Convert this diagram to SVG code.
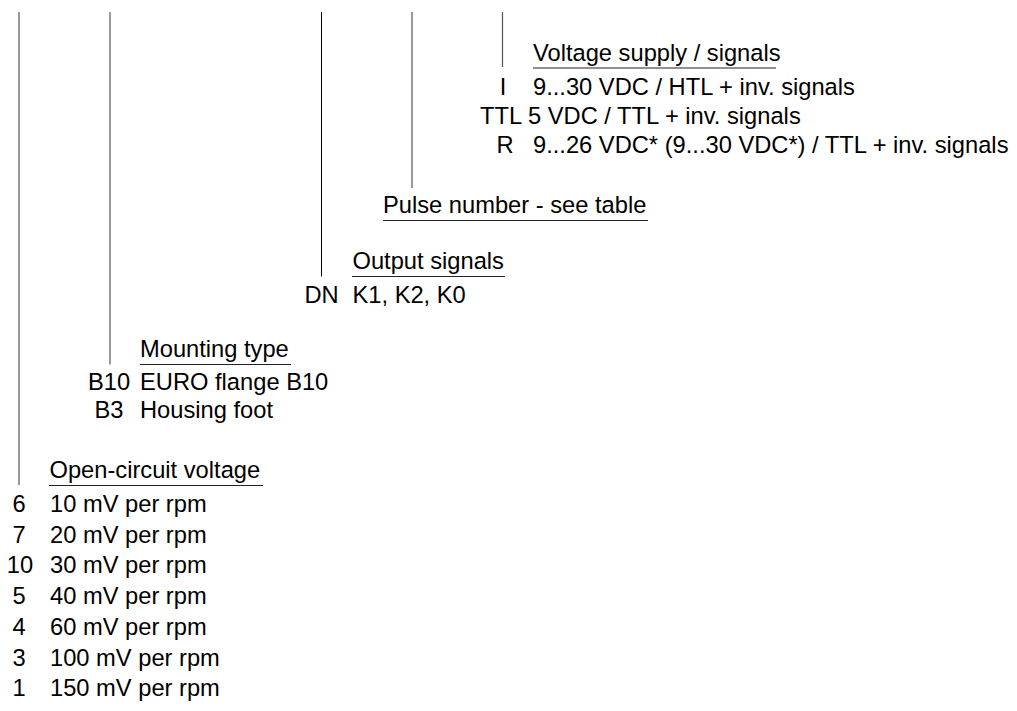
<svg xmlns="http://www.w3.org/2000/svg" width="1017" height="711" viewBox="0 0 1017 711">
<style>
text{font-family:"Liberation Sans",Arial,sans-serif;font-size:23.7px;fill:#000}
.c{text-anchor:middle}
.lead{stroke:#555;stroke-width:1.2;fill:none}
.ul{stroke:#222;stroke-width:1.2;fill:none}
</style>
<rect width="1017" height="711" fill="#fff"/>
<g id="connectors">
<line class="lead" x1="19" y1="12" x2="19" y2="485"/>
<line class="lead" x1="110" y1="12" x2="110" y2="364.5"/>
<line class="lead" x1="321.5" y1="12" x2="321.5" y2="276.5" style="stroke:#000;stroke-width:1"/>
<line class="lead" x1="412" y1="12" x2="412" y2="188"/>
<line class="lead" x1="502.5" y1="12" x2="502.5" y2="67"/>
</g>
<g id="voltage-supply">
<text x="533" y="60.5">Voltage supply / signals</text>
<line class="ul" x1="533" y1="68" x2="776" y2="68"/>
<text class="c" x="503" y="94.5">I</text>
<text x="533" y="94.5">9...30 VDC / HTL + inv. signals</text>
<text class="c" x="501" y="124">TTL</text>
<text x="528" y="124">5 VDC / TTL + inv. signals</text>
<text class="c" x="505" y="153">R</text>
<text x="533" y="153">9...26 VDC* (9...30 VDC*) / TTL + inv. signals</text>
</g>
<g id="pulse-number">
<text x="383" y="213">Pulse number - see table</text>
<line class="ul" x1="383" y1="220.5" x2="648" y2="220.5"/>
</g>
<g id="output-signals">
<text x="352.5" y="269">Output signals</text>
<line class="ul" x1="352" y1="276.5" x2="505" y2="276.5"/>
<text class="c" x="321.5" y="303">DN</text>
<text x="352.5" y="303">K1, K2, K0</text>
</g>
<g id="mounting-type">
<text x="140" y="357">Mounting type</text>
<line class="ul" x1="140" y1="364.5" x2="291" y2="364.5"/>
<text class="c" x="109" y="389.5">B10</text>
<text x="140" y="389.5">EURO flange B10</text>
<text class="c" x="109" y="418">B3</text>
<text x="140" y="418">Housing foot</text>
</g>
<g id="open-circuit-voltage">
<text x="49.5" y="478">Open-circuit voltage</text>
<line class="ul" x1="49" y1="485.5" x2="263" y2="485.5"/>
<text class="c" x="19" y="512">6</text>
<text x="50" y="512">10 mV per rpm</text>
<text class="c" x="19" y="542.7">7</text>
<text x="50" y="542.7">20 mV per rpm</text>
<text class="c" x="20" y="573.4">10</text>
<text x="50" y="573.4">30 mV per rpm</text>
<text class="c" x="19" y="604.1">5</text>
<text x="50" y="604.1">40 mV per rpm</text>
<text class="c" x="19" y="634.8">4</text>
<text x="50" y="634.8">60 mV per rpm</text>
<text class="c" x="19" y="665.5">3</text>
<text x="50" y="665.5">100 mV per rpm</text>
<text class="c" x="19" y="696.2">1</text>
<text x="50" y="696.2">150 mV per rpm</text>
</g>
</svg>
